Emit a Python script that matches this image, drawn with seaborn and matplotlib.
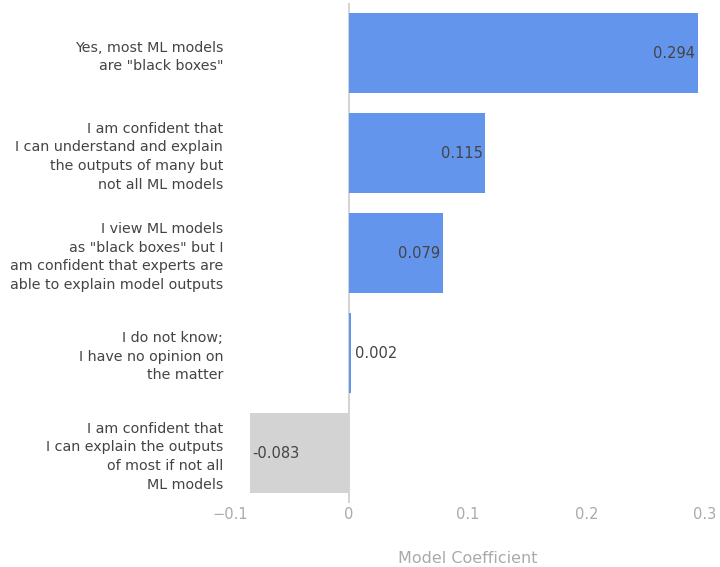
import matplotlib
matplotlib.use("Agg")
import matplotlib.pyplot as plt
import seaborn as sns
import pandas as pd

categories = [
    'Yes, most ML models\nare "black boxes"',
    'I am confident that\nI can understand and explain\nthe outputs of many but\nnot all ML models',
    'I view ML models\nas "black boxes" but I\nam confident that experts are\nable to explain model outputs',
    'I do not know;\nI have no opinion on\nthe matter',
    'I am confident that\nI can explain the outputs\nof most if not all\nML models',
]
coefficients = [0.294, 0.115, 0.079, 0.002, -0.083]
value_labels = ["0.294", "0.115", "0.079", "0.002", "-0.083"]
x_ticks = [-0.1, 0, 0.1, 0.2, 0.3]
x_tick_labels = ["\u22120.1", "0", "0.1", "0.2", "0.3"]

sns.set_theme(style="white")
plt.rcParams['font.family'] = ['DejaVu Sans']

df = pd.DataFrame({
    "category": categories,
    "coef": coefficients,
    "sign": ["pos" if v >= 0 else "neg" for v in coefficients],
})

fig = plt.figure(figsize=(7.2, 5.67), dpi=100)
ax = fig.add_axes([230 / 720, 1 - 503 / 567, 475 / 720, 500 / 567])

sns.barplot(data=df, x="coef", y="category", hue="sign", order=categories,
            palette={"pos": "#6495ED", "neg": "#D3D3D3"}, dodge=False,
            width=0.8, orient="h", legend=False, ax=ax, saturation=1,
            linewidth=0)

ax.set_xlim(-0.1, 0.3)
ax.set_ylim(4.5, -0.5)
ax.axvline(0, color="#cccccc", lw=1.2, zorder=0)

fs_val = 10.5
for i, (v, lab) in enumerate(zip(coefficients, value_labels)):
    if abs(v) > 0.05:
        if v > 0:
            ax.annotate(lab, (v, i), xytext=(-2, 0), textcoords="offset points",
                        ha="right", va="center", fontsize=fs_val, color="#444444")
        else:
            ax.annotate(lab, (v, i), xytext=(1.5, 0), textcoords="offset points",
                        ha="left", va="center", fontsize=fs_val, color="#444444")
    else:
        ax.annotate(lab, (v, i), xytext=(3, 0), textcoords="offset points",
                    ha="left", va="center", fontsize=fs_val, color="#444444")

ax.set_xticks(x_ticks)
ax.set_xticklabels(x_tick_labels, fontsize=10.5, color="#aaaaaa")
ax.tick_params(axis="x", length=0, pad=3)
ax.tick_params(axis="y", length=0, pad=5)
for t in ax.get_yticklabels():
    t.set_fontsize(10.3)
    t.set_color("#444444")
    t.set_linespacing(1.42)
    t.set_ha("right")

ax.set_ylabel("")
ax.set_xlabel("Model Coefficient", fontsize=11.5, color="#aaaaaa", labelpad=21)
for s in ax.spines.values():
    s.set_visible(False)

fig.savefig("out.png", dpi=100)
